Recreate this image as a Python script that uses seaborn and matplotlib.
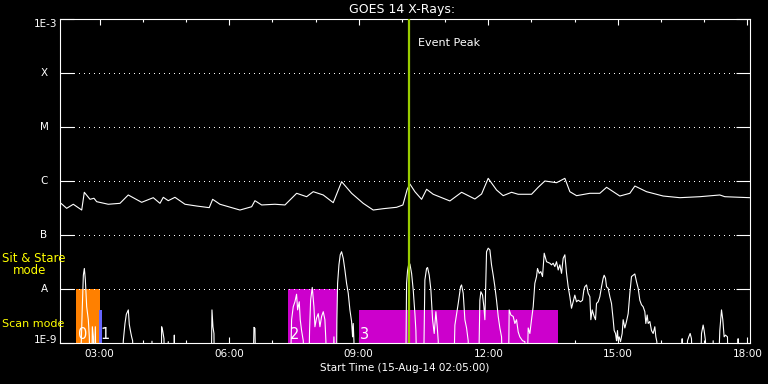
import matplotlib
matplotlib.use("Agg")
import matplotlib.pyplot as plt
import matplotlib.transforms as mtransforms
from matplotlib.ticker import FixedLocator, NullLocator
import seaborn as sns

# time axis in decimal hours on 15-Aug-14, window starts at 02:05
t_start = 2 + 5 / 60
t_end = 18.06

below = 1e-10  # short channel under the 1E-9 floor

# GOES 1-8 A channel (upper trace), W/m^2
long_time = [2.106, 2.238, 2.391, 2.586, 2.646, 2.778, 2.870, 2.933, 3.201, 3.472,
             3.664, 3.974, 4.243, 4.398, 4.475, 4.590, 4.745, 4.977, 5.248, 5.539,
             5.618, 5.787, 6.250, 6.521, 6.597, 6.752, 7.060, 7.292, 7.563, 7.794,
             7.947, 8.178, 8.410, 8.604, 8.836, 9.104, 9.336, 9.567, 9.877, 10.023,
             10.123, 10.185, 10.301, 10.456, 10.572, 10.725, 11.111, 11.382, 11.690, 11.845,
             11.998, 12.192, 12.345, 12.539, 12.692, 13.002, 13.155, 13.310, 13.581, 13.773,
             13.889, 14.044, 14.352, 14.583, 14.739, 15.046, 15.278, 15.394, 15.664, 16.049,
             16.435, 16.898, 17.361, 17.477, 17.824, 18.056]
long_flux = [3.86e-7, 3.12e-7, 3.71e-7, 2.90e-7, 6.18e-7, 4.58e-7, 4.79e-7, 4.14e-7, 3.71e-7, 3.86e-7,
             5.51e-7, 4.03e-7, 4.91e-7, 3.86e-7, 4.99e-7, 4.32e-7, 4.99e-7, 3.71e-7, 3.44e-7, 3.21e-7,
             4.58e-7, 3.71e-7, 2.90e-7, 3.34e-7, 4.32e-7, 3.60e-7, 3.71e-7, 3.60e-7, 5.92e-7, 5.12e-7,
             6.34e-7, 5.51e-7, 3.97e-7, 9.71e-7, 5.92e-7, 3.86e-7, 2.90e-7, 3.07e-7, 3.26e-7, 3.60e-7,
             7.02e-7, 8.79e-7, 6.34e-7, 4.58e-7, 7.02e-7, 5.68e-7, 4.27e-7, 6.18e-7, 4.64e-7, 5.74e-7,
             1.12e-6, 6.81e-7, 5.35e-7, 6.18e-7, 5.68e-7, 5.68e-7, 7.64e-7, 1.00e-6, 9.30e-7, 1.12e-6,
             6.34e-7, 5.35e-7, 5.92e-7, 5.92e-7, 7.64e-7, 5.27e-7, 5.92e-7, 8.07e-7, 6.34e-7, 5.27e-7,
             4.91e-7, 5.12e-7, 5.51e-7, 5.12e-7, 4.99e-7, 4.91e-7]

# GOES 0.5-4 A channel (lower trace), W/m^2
short_time = [2.083, 2.508, 2.577, 2.600, 2.624, 2.647, 2.670, 2.701, 2.739, 2.762,
              2.785, 2.810, 2.832, 2.855, 2.878, 2.901, 2.924, 3.511, 3.549, 3.588,
              3.619, 3.665, 3.688, 3.719, 3.742, 3.765, 3.789, 4.195, 4.213, 4.230,
              4.425, 4.437, 4.460, 4.491, 4.514, 4.590, 4.605, 4.715, 4.730, 4.745,
              5.579, 5.602, 5.625, 5.648, 5.664, 6.543, 6.574, 6.597, 6.628, 7.407,
              7.446, 7.484, 7.523, 7.561, 7.585, 7.623, 7.646, 7.677, 7.716, 7.754,
              7.832, 7.862, 7.886, 7.924, 7.963, 7.986, 8.024, 8.063, 8.102, 8.140,
              8.179, 8.217, 8.240, 8.264, 8.387, 8.426, 8.457, 8.480, 8.495, 8.511,
              8.542, 8.572, 8.603, 8.642, 8.680, 8.719, 8.758, 8.796, 8.835, 8.858,
              8.873, 8.889, 8.912, 10.085, 10.108, 10.131, 10.162, 10.185, 10.224, 10.262,
              10.301, 10.324, 10.355, 10.494, 10.532, 10.571, 10.594, 10.633, 10.671, 10.710,
              10.748, 10.787, 10.818, 10.841, 10.864, 11.188, 11.227, 11.304, 11.358, 11.381,
              11.420, 11.458, 11.497, 11.535, 11.558, 11.767, 11.805, 11.828, 11.867, 11.898,
              11.921, 11.944, 11.960, 11.998, 12.037, 12.075, 12.114, 12.153, 12.191, 12.230,
              12.268, 12.307, 12.345, 12.461, 12.484, 12.523, 12.577, 12.616, 12.654, 12.693,
              12.731, 12.793, 12.847, 12.886, 12.924, 12.963, 13.001, 13.040, 13.078, 13.117,
              13.140, 13.179, 13.217, 13.256, 13.295, 13.349, 13.426, 13.464, 13.503, 13.541,
              13.580, 13.619, 13.657, 13.696, 13.734, 13.773, 13.812, 13.850, 13.889, 13.927,
              13.966, 14.004, 14.043, 14.082, 14.136, 14.182, 14.213, 14.236, 14.275, 14.313,
              14.352, 14.375, 14.406, 14.452, 14.483, 14.506, 14.545, 14.583, 14.622, 14.660,
              14.683, 14.714, 14.738, 14.776, 14.815, 14.853, 14.892, 14.915, 14.946, 14.969,
              14.992, 15.008, 15.031, 15.062, 15.100, 15.123, 15.162, 15.200, 15.239, 15.278,
              15.316, 15.355, 15.393, 15.432, 15.471, 15.509, 15.548, 15.586, 15.625, 15.648,
              15.679, 15.702, 15.741, 15.779, 15.818, 15.856, 15.880, 15.903, 15.926, 16.474,
              16.489, 16.504, 16.574, 16.613, 16.643, 16.674, 16.705, 16.744, 16.898, 16.937,
              16.975, 16.998, 17.029, 17.052, 17.190, 17.207, 17.225, 17.307, 17.361, 17.400,
              17.430, 17.461, 17.492, 17.538, 17.569, 17.770, 17.785, 17.800, 18.060]
short_flux = [below, below, 1.1e-9, 4.7e-9, 1.8e-8, 2.4e-8, 1.5e-8, 4.7e-9, 2.7e-9, 1.3e-9,
              below, below, 2.0e-9, 1.3e-9, below, 2.0e-9, below, below, 1.1e-9, 2.3e-9,
              3.4e-9, 4.1e-9, 2.2e-9, 1.6e-9, 1.3e-9, 1.1e-9, below, below, 1.08e-9, below,
              below, 2.0e-9, 1.7e-9, 1.2e-9, below, 1.06e-9, below, below, 1.4e-9, below,
              below, 4.1e-9, 2.0e-9, 1.5e-9, below, below, 1.95e-9, 1.87e-9, below, below,
              2.7e-9, 4.7e-9, 5.8e-9, 8.0e-9, 4.1e-9, 5.8e-9, 2.7e-9, 1.7e-9, 1.1e-9, below,
              below, 1.7e-9, 6.2e-9, 1.07e-8, 4.7e-9, 2.0e-9, 2.9e-9, 3.5e-9, 2.0e-9, 3.1e-9,
              3.8e-9, 2.7e-9, 1.1e-9, below, below, 1.3e-9, below, below, 2.7e-9, 1.27e-8,
              2.8e-8, 4.3e-8, 4.9e-8, 3.7e-8, 2.25e-8, 1.27e-8, 8.3e-9, 4.1e-9, 2.5e-9, 1.3e-9,
              2.3e-9, 1.1e-9, below, below, 1.27e-8, 2.2e-8, 3.0e-8, 2.9e-8, 1.95e-8, 9.6e-9,
              3.5e-9, 1.7e-9, below, below, 1.47e-8, 2.4e-8, 2.5e-8, 1.8e-8, 9.6e-9, 2.7e-9,
              1.5e-9, 3.8e-9, 2.0e-9, 1.1e-9, below, below, 2.15e-9, 5.4e-9, 1.1e-8, 1.19e-8,
              8.3e-9, 2.7e-9, 1.9e-9, 1.1e-9, below, below, 6.2e-9, 8.9e-9, 7.7e-9, 4.7e-9,
              2.7e-9, 1.47e-8, 4.9e-8, 5.7e-8, 5.3e-8, 2.8e-8, 1.8e-8, 1.1e-8, 6.2e-9, 3.1e-9,
              1.9e-9, 1.3e-9, below, below, 4.1e-9, 3.3e-9, 3.1e-9, 2.3e-9, 2.7e-9, 1.6e-9,
              1.3e-9, 1.1e-9, 1.06e-9, below, 1.9e-9, 1.5e-9, 2.7e-9, 4.7e-9, 1.27e-8, 1.7e-8,
              2.4e-8, 1.95e-8, 2.1e-8, 1.7e-8, 4.6e-8, 3.2e-8, 3.0e-8, 2.8e-8, 3.0e-8, 2.6e-8,
              3.2e-8, 2.25e-8, 2.8e-8, 1.95e-8, 3.7e-8, 4.3e-8, 1.95e-8, 1.1e-8, 7.2e-9, 4.4e-9,
              5.8e-9, 7.7e-9, 5.8e-9, 6.2e-9, 5.8e-9, 6.2e-9, 9.6e-9, 1.1e-8, 1.19e-8, 8.3e-9,
              7.2e-9, 2.7e-9, 4.1e-9, 3.1e-9, 2.7e-9, 5.4e-9, 5.8e-9, 7.2e-9, 1.1e-8, 1.58e-8,
              1.8e-8, 1.58e-8, 1.1e-8, 1.03e-8, 7.2e-9, 5.4e-9, 2.7e-9, 1.7e-9, 1.5e-9, 1.1e-9,
              1.7e-9, 1.1e-9, 1.3e-9, 1.06e-9, 1.5e-9, 2.7e-9, 1.9e-9, 2.5e-9, 3.5e-9, 8.3e-9,
              1.7e-8, 1.8e-8, 1.9e-8, 1.37e-8, 1.03e-8, 6.2e-9, 5.1e-9, 4.7e-9, 3.8e-9, 2.3e-9,
              3.3e-9, 2.3e-9, 2.5e-9, 1.7e-9, 1.5e-9, 2.0e-9, 1.3e-9, 1.06e-9, below, below,
              1.2e-9, below, below, 1.1e-9, 1.3e-9, 1.5e-9, 1.2e-9, below, below, 1.5e-9,
              2.15e-9, 1.7e-9, 1.1e-9, below, below, 1.1e-9, below, below, 1.7e-9, 4.1e-9,
              2.7e-9, 1.3e-9, 1.4e-9, 1.3e-9, below, below, 1.2e-9, below, below]

# observing blocks: sit & stare (orange) and scans
scan_start = [2.454, 2.994, 7.369, 9.004]
scan_end = [3.000, 3.048, 8.503, 13.603]
scan_top = [1e-8, 4.1e-9, 1e-8, 4.1e-9]
scan_color = ["#ff8000", "#6666ff", "#cc00cc", "#cc00cc"]
scan_label = ["0", "1", "2", "3"]
scan_label_y = 1.2e-9

event_peak = 10.162

class_levels = [1e-9, 1e-8, 1e-7, 1e-6, 1e-5, 1e-4, 1e-3]
class_labels = ["1E-9", "A", "B", "C", "M", "X", "1E-3"]

hour_ticks = [3, 6, 9, 12, 15, 18]
hour_labels = ["03:00", "06:00", "09:00", "12:00", "15:00", "18:00"]
hour_minor = list(range(3, 19))

sns.set_style("dark", {"axes.facecolor": "black", "figure.facecolor": "black"})
plt.rcParams["font.family"] = ["DejaVu Sans"]

fig = plt.figure(figsize=(7.68, 3.84), dpi=100, facecolor="black")
ax = fig.add_axes([60 / 768, 1 - 343 / 384, 690 / 768, 324 / 384])
ax.set_facecolor("black")

for s0, s1, top, col in zip(scan_start, scan_end, scan_top, scan_color):
    ax.fill_between([s0, s1], below, top, color=col, lw=0, zorder=1)

nudge = mtransforms.ScaledTranslation(1.5 / 100, 0, fig.dpi_scale_trans)
for s0, lab in zip(scan_start, scan_label):
    ax.text(s0, scan_label_y, lab, color="white", fontsize=10.5, ha="left",
            va="baseline", transform=ax.transData + nudge, zorder=2)

sns.lineplot(x=long_time, y=long_flux, color="white", linewidth=0.8,
             estimator=None, sort=False, ax=ax, zorder=3)
sns.lineplot(x=short_time, y=short_flux, color="white", linewidth=0.8,
             estimator=None, sort=False, ax=ax, zorder=3)

ax.axvline(event_peak, color="#99cc00", lw=1.6, zorder=4)
peak_off = mtransforms.ScaledTranslation(9 / 100, 0, fig.dpi_scale_trans)
ax.text(event_peak, 0.926, "Event Peak", color="white", fontsize=8, va="center",
        transform=mtransforms.blended_transform_factory(ax.transData, ax.transAxes) + peak_off)

ax.set_yscale("log")
ax.set_xlim(t_start, t_end)
ax.set_ylim(class_levels[0], class_levels[-1])
ax.set_xlabel("")
ax.set_ylabel("")

# dotted class levels between the tick marks
for lvl in class_levels[1:-1]:
    ax.axhline(lvl, xmin=0.0203, xmax=0.98, color="white", lw=0.72,
               linestyle=(0, (1, 5)), zorder=2, antialiased=False)

ax.yaxis.set_major_locator(FixedLocator(class_levels))
ax.yaxis.set_minor_locator(NullLocator())
ax.tick_params(axis="y", which="major", direction="in", length=10, width=0.8,
               color="white", left=True, right=True, labelleft=False)
ax.xaxis.set_major_locator(FixedLocator(hour_ticks))
ax.xaxis.set_minor_locator(FixedLocator(hour_minor))
ax.set_xticklabels(hour_labels)
ax.tick_params(axis="x", which="major", direction="in", length=4.3, width=0.8,
               color="white", top=True, bottom=True, labelsize=7.5,
               labelcolor="white", pad=4.5)
ax.tick_params(axis="x", which="minor", direction="in", length=2.5, width=0.8,
               color="white", top=True, bottom=True)
ax.grid(False)
for sp in ax.spines.values():
    sp.set_color("white")
    sp.set_linewidth(0.8)
    sp.set_visible(True)

ylab = mtransforms.blended_transform_factory(ax.transAxes, ax.transData)
for lvl, lab in zip(class_levels, class_labels):
    if lab.startswith("1E"):
        va = "top" if lvl == class_levels[-1] else "baseline"
        ax.text(-0.0043, lvl, lab, color="white", fontsize=7.5, ha="right",
                va=va, transform=ylab)
    else:
        ax.text(-0.0232, lvl, lab, color="white", fontsize=7.5, ha="center",
                va="center", transform=ylab)

fig.text(402 / 768, 1 - 10 / 384, "GOES 14 X-Rays:", color="white",
         fontsize=9, ha="center", va="center")
fig.text(405 / 768, 1 - 368 / 384, "Start Time (15-Aug-14 02:05:00)",
         color="white", fontsize=7.5, ha="center", va="center")
fig.text(2 / 768, 1 - 258.5 / 384, "Sit & Stare", color="yellow",
         fontsize=8.5, ha="left", va="center")
fig.text(12.5 / 768, 1 - 271 / 384, "mode", color="yellow",
         fontsize=8.5, ha="left", va="center")
fig.text(2 / 768, 1 - 324 / 384, "Scan mode", color="yellow",
         fontsize=8, ha="left", va="center")

fig.savefig("out.png", dpi=100, facecolor="black")
